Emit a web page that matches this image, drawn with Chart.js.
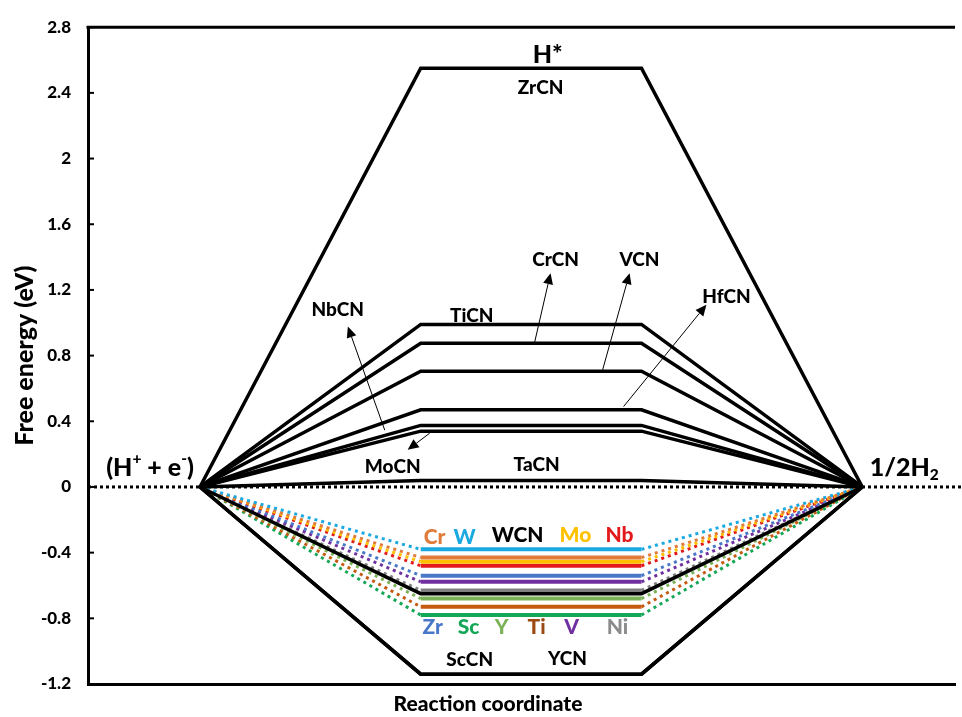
<!DOCTYPE html>
<html>
<head>
<meta charset="utf-8">
<script src="https://cdn.jsdelivr.net/npm/chart.js@4.4.1/dist/chart.umd.min.js"></script>
<style>
html, body { margin: 0; padding: 0; background: #fff; }
</style>
</head>
<body>
<canvas id="myChart" width="962" height="717"></canvas>
<script>
// reaction steps: H+ + e-  ->  ramp  ->  H*  ->  ramp  ->  1/2 H2
var steps = [0, 1, 2, 3];

// pure carbonitrides (black)
var pureNames = ["ZrCN", "TiCN", "CrCN", "VCN", "HfCN", "NbCN", "MoCN", "TaCN", "WCN", "ScCN", "YCN"];
var pureLevels = [2.55, 0.99, 0.875, 0.705, 0.47, 0.375, 0.34, 0.04, -0.65, -1.14, -1.14];

// doped WCN (coloured)
var dopants = ["W", "Cr", "Mo", "Nb", "Zr", "V", "Ni", "Y", "Ti", "Sc"];
var dopantLevels = [-0.38, -0.43, -0.455, -0.48, -0.54, -0.578, -0.63, -0.68, -0.73, -0.78];
var dopantColors = ["#1ba9e1", "#e07b39", "#ffc000", "#e31a1c", "#4a78c8", "#7030a0", "#808080", "#7cb257", "#c55a11", "#13a757"];

var yTickValues = [-1.2, -0.8, -0.4, 0, 0.4, 0.8, 1.2, 1.6, 2, 2.4, 2.8];

var FONT = "Lato, 'Open Sans', sans-serif";
var WEIGHT = "900";

function pathway(level) {
    return steps.map(function (s) {
        return { x: s, y: (s === 0 || s === 3) ? 0 : level };
    });
}

var datasets = [];
pureNames.forEach(function (name, i) {
    datasets.push({
        label: name,
        data: pathway(pureLevels[i]),
        borderColor: "#000",
        borderWidth: 3.5,
        borderJoinStyle: "miter",
        pointRadius: 0,
        order: 0
    });
});
dopants.forEach(function (name, i) {
    datasets.push({
        label: name,
        data: pathway(dopantLevels[i]),
        borderColor: dopantColors[i],
        borderWidth: 4,
        pointRadius: 0,
        order: 1,
        segment: {
            borderDash: function (c) { return c.p0DataIndex === 1 ? [] : [3, 4]; },
            borderWidth: function (c) { return c.p0DataIndex === 1 ? 4 : 3; }
        }
    });
});

// text annotations, placed in data units
var notes = [
    { t: "H*", x: 1.575, y: 2.632, size: 25 },
    { t: "ZrCN", x: 1.543, y: 2.433, size: 19 },
    { t: "TiCN", x: 1.231, y: 1.044, size: 19 },
    { t: "NbCN", x: 0.624, y: 1.080, size: 19 },
    { t: "CrCN", x: 1.611, y: 1.380, size: 19 },
    { t: "VCN", x: 1.991, y: 1.380, size: 19 },
    { t: "HfCN", x: 2.385, y: 1.158, size: 19 },
    { t: "MoCN", x: 0.873, y: 0.123, size: 19 },
    { t: "TaCN", x: 1.525, y: 0.135, size: 19 },
    { t: "Cr", x: 1.063, y: -0.304, size: 21, color: "#e07b39" },
    { t: "W", x: 1.199, y: -0.304, size: 21, color: "#1ba9e1" },
    { t: "WCN", x: 1.439, y: -0.292, size: 21 },
    { t: "Mo", x: 1.701, y: -0.292, size: 21, color: "#ffc000" },
    { t: "Nb", x: 1.900, y: -0.292, size: 21, color: "#e31a1c" },
    { t: "Zr", x: 1.054, y: -0.857, size: 21, color: "#4a78c8" },
    { t: "Sc", x: 1.217, y: -0.857, size: 21, color: "#13a757" },
    { t: "Y", x: 1.367, y: -0.857, size: 21, color: "#7cb257" },
    { t: "Ti", x: 1.525, y: -0.857, size: 21, color: "#9c4a14" },
    { t: "V", x: 1.683, y: -0.857, size: 21, color: "#7030a0" },
    { t: "Ni", x: 1.891, y: -0.857, size: 21, color: "#8c8c8c" },
    { t: "ScCN", x: 1.222, y: -1.056, size: 19 },
    { t: "YCN", x: 1.665, y: -1.050, size: 19 }
];

var richNotes = [
    { parts: [{ t: "(H" }, { t: "+", sup: true }, { t: " + e" }, { t: "-", sup: true }, { t: ")" }], x: -0.226, y: 0.117, size: 25 },
    { parts: [{ t: "1/2H" }, { t: "2", sub: true }], x: 3.19, y: 0.117, size: 25 }
];

// thin pointer arrows: tail on the level, head at the label
var arrows = [
    { from: [0.837, 0.346], to: [0.670, 0.977] },
    { from: [1.041, 0.328], to: [0.941, 0.226] },
    { from: [1.516, 0.881], to: [1.588, 1.302] },
    { from: [1.824, 0.713], to: [1.946, 1.302] },
    { from: [1.919, 0.490], to: [2.294, 1.110] }
];

function drawRich(ctx, parts, cx, cy, size) {
    var total = 0;
    parts.forEach(function (p) {
        var s = (p.sup || p.sub) ? size * 0.62 : size;
        ctx.font = WEIGHT + " " + s + "px " + FONT;
        p.w = ctx.measureText(p.t).width;
        total += p.w;
    });
    var x = cx - total / 2;
    parts.forEach(function (p) {
        var s = (p.sup || p.sub) ? size * 0.62 : size;
        ctx.font = WEIGHT + " " + s + "px " + FONT;
        var dy = p.sup ? -size * 0.33 : (p.sub ? size * 0.3 : 0);
        ctx.fillText(p.t, x, cy + dy);
        x += p.w;
    });
}

var decor = {
    id: "decor",
    beforeDatasetsDraw: function (chart) {
        var ctx = chart.ctx, a = chart.chartArea;
        var ys = chart.scales.y;
        var y0 = ys.getPixelForValue(0);
        ctx.save();
        ctx.strokeStyle = "#000";
        ctx.lineWidth = 3;
        ctx.setLineDash([3, 3]);
        ctx.beginPath();
        ctx.moveTo(a.left, y0);
        ctx.lineTo(chart.width, y0);
        ctx.stroke();
        ctx.restore();
    },
    afterDraw: function (chart) {
        var ctx = chart.ctx, a = chart.chartArea;
        var xs = chart.scales.x, ys = chart.scales.y;
        ctx.save();
        // top frame line
        ctx.strokeStyle = "#000";
        ctx.lineWidth = 3;
        ctx.beginPath();
        ctx.moveTo(a.left - 1.5, a.top);
        ctx.lineTo(a.right, a.top);
        ctx.stroke();
        // inward tick marks
        ctx.lineWidth = 2;
        ys.ticks.forEach(function (t) {
            var py = ys.getPixelForValue(t.value);
            ctx.beginPath();
            ctx.moveTo(a.left, py);
            ctx.lineTo(a.left + 6, py);
            ctx.stroke();
        });
        // arrows
        ctx.lineWidth = 1;
        ctx.fillStyle = "#000";
        arrows.forEach(function (ar) {
            var x1 = xs.getPixelForValue(ar.from[0]), y1 = ys.getPixelForValue(ar.from[1]);
            var x2 = xs.getPixelForValue(ar.to[0]), y2 = ys.getPixelForValue(ar.to[1]);
            var ang = Math.atan2(y2 - y1, x2 - x1);
            var len = 11, half = 5;
            var bx = x2 - len * Math.cos(ang), by = y2 - len * Math.sin(ang);
            ctx.beginPath();
            ctx.moveTo(x1, y1);
            ctx.lineTo(bx, by);
            ctx.stroke();
            ctx.beginPath();
            ctx.moveTo(x2, y2);
            ctx.lineTo(bx + half * Math.sin(ang), by - half * Math.cos(ang));
            ctx.lineTo(bx - half * Math.sin(ang), by + half * Math.cos(ang));
            ctx.closePath();
            ctx.fill();
        });
        // labels
        ctx.textAlign = "center";
        ctx.textBaseline = "middle";
        notes.forEach(function (n) {
            ctx.font = WEIGHT + " " + n.size + "px " + FONT;
            ctx.fillStyle = n.color || "#000";
            ctx.fillText(n.t, xs.getPixelForValue(n.x), ys.getPixelForValue(n.y));
        });
        ctx.fillStyle = "#000";
        // x axis title sits a little left of the plot centre
        ctx.font = WEIGHT + " 21px " + FONT;
        ctx.fillText("Reaction coordinate", chart.width / 2 + 7, 704);
        ctx.textAlign = "left";
        richNotes.forEach(function (n) {
            drawRich(ctx, n.parts, xs.getPixelForValue(n.x), ys.getPixelForValue(n.y), n.size);
        });
        ctx.restore();
    }
};

var ctx = document.getElementById("myChart").getContext("2d");
var chart = new Chart(ctx, {
    type: "line",
    data: { datasets: datasets },
    options: {
        responsive: false,
        animation: false,
        layout: { padding: { top: 19, right: 7, left: 0, bottom: 0 } },
        plugins: { legend: { display: false }, tooltip: { enabled: false } },
        scales: {
            x: {
                type: "linear",
                min: -0.507,
                max: 3.42,
                grid: { display: false, drawTicks: false },
                ticks: { display: false },
                border: { display: true, color: "#000", width: 3 },
                afterFit: function (s) { s.height = 33; }
            },
            y: {
                min: -1.2,
                max: 2.8,
                grid: { display: false, drawTicks: false },
                border: { display: true, color: "#000", width: 3 },
                afterBuildTicks: function (s) {
                    s.ticks = yTickValues.map(function (v) { return { value: v }; });
                },
                ticks: {
                    color: "#000",
                    padding: 17,
                    font: { family: FONT, size: 17, weight: WEIGHT },
                    callback: function (v) { return String(v); }
                },
                title: {
                    display: true,
                    text: "Free energy (eV)",
                    color: "#000",
                    font: { family: FONT, size: 25, weight: WEIGHT },
                    padding: { top: 10, bottom: 0 }
                },
                afterFit: function (s) { s.width = 88; }
            }
        }
    },
    plugins: [decor]
});
</script>
</body>
</html>
